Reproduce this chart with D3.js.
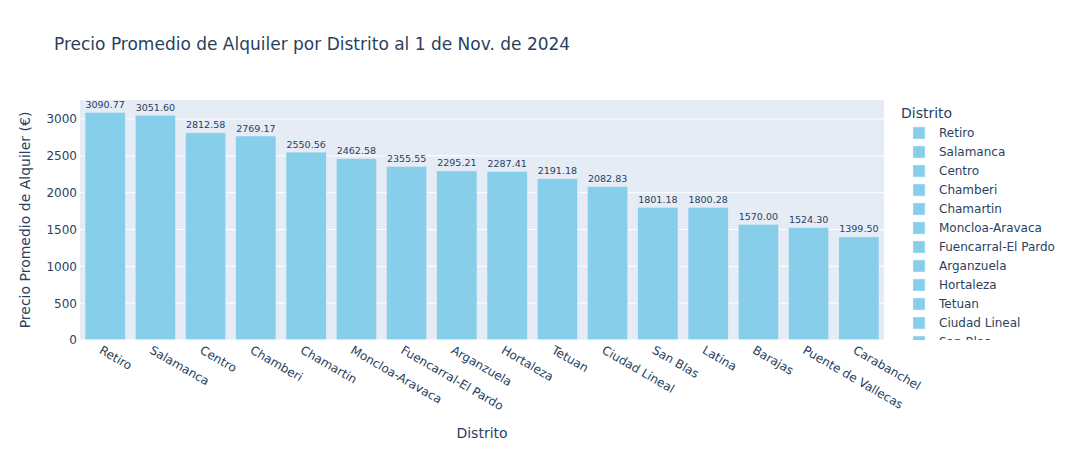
<!DOCTYPE html>
<html>
<head>
<meta charset="utf-8">
<script src="https://cdn.jsdelivr.net/npm/d3@7"></script>
<style>
  html, body { margin: 0; padding: 0; background: #fff; }
  svg text { font-family: "DejaVu Sans", Verdana, sans-serif; fill: #2a3f5f; }
</style>
</head>
<body>
<svg id="chart" width="1074" height="450"></svg>
<script>
const titleText = "Precio Promedio de Alquiler por Distrito al 1 de Nov. de 2024";
const xTitle = "Distrito";
const yTitle = "Precio Promedio de Alquiler (€)";
const legendTitle = "Distrito";
const districts = ["Retiro", "Salamanca", "Centro", "Chamberi", "Chamartin", "Moncloa-Aravaca",
  "Fuencarral-El Pardo", "Arganzuela", "Hortaleza", "Tetuan", "Ciudad Lineal", "San Blas",
  "Latina", "Barajas", "Puente de Vallecas", "Carabanchel"];
const prices = [3090.77, 3051.60, 2812.58, 2769.17, 2550.56, 2462.58, 2355.55, 2295.21,
  2287.41, 2191.18, 2082.83, 1801.18, 1800.28, 1570.00, 1524.30, 1399.50];
const yTicks = [0, 500, 1000, 1500, 2000, 2500, 3000];

const svg = d3.select("#chart");
const margin = {left: 80, right: 884, top: 100, bottom: 340};
const barColor = "#87CEEB";
const plotBg = "#E5ECF6";
const textColor = "#2a3f5f";

const x = d3.scaleBand().domain(districts).range([margin.left, margin.right]).paddingInner(0.2).paddingOuter(0.1);
const y = d3.scaleLinear().domain([0, 3258]).range([margin.bottom, margin.top]);

// plot background
svg.append("rect").attr("x", margin.left).attr("y", margin.top)
  .attr("width", margin.right - margin.left).attr("height", margin.bottom - margin.top)
  .attr("fill", plotBg);

// gridlines
svg.append("g").selectAll("line").data(yTicks.filter(d => d > 0)).join("line")
  .attr("x1", margin.left).attr("x2", margin.right)
  .attr("y1", d => y(d)).attr("y2", d => y(d))
  .attr("stroke", "#fff").attr("stroke-width", 1);

// y axis labels
const yAxis = d3.axisLeft(y).tickValues(yTicks).tickSize(0).tickPadding(3).tickFormat(d3.format("d"));
const yg = svg.append("g").attr("transform", `translate(${margin.left},0)`).call(yAxis);
yg.select(".domain").remove();
yg.selectAll("text").attr("font-size", 12).attr("font-family", "DejaVu Sans").style("fill", textColor);

// bars
svg.append("g").selectAll("rect").data(districts).join("rect")
  .attr("x", d => x(d)).attr("width", x.bandwidth())
  .attr("y", (d, i) => y(prices[i])).attr("height", (d, i) => y(0) - y(prices[i]))
  .attr("fill", barColor).attr("stroke", plotBg).attr("stroke-width", 0.5);

// value labels
svg.append("g").selectAll("text").data(districts).join("text")
  .attr("x", d => x(d) + x.bandwidth() / 2)
  .attr("y", (d, i) => y(prices[i]) - 4.5)
  .attr("text-anchor", "middle").attr("font-size", 9.55)
  .text((d, i) => prices[i].toFixed(2));

// zero line
svg.append("line").attr("x1", margin.left).attr("x2", margin.right)
  .attr("y1", y(0)).attr("y2", y(0)).attr("stroke", "#fff").attr("stroke-width", 1);

// x axis labels
const xAxis = d3.axisBottom(x).tickSize(0).tickPadding(0);
const xg = svg.append("g").attr("transform", `translate(0,${margin.bottom})`).call(xAxis);
xg.select(".domain").remove();
xg.selectAll("text")
  .attr("font-size", 12).attr("font-family", "DejaVu Sans").style("fill", textColor)
  .attr("text-anchor", "start").attr("dy", null).attr("y", null)
  .attr("transform", "translate(-6.7,12.6) rotate(30)");

// axis titles
svg.append("text").attr("x", (margin.left + margin.right) / 2).attr("y", 438)
  .attr("text-anchor", "middle").attr("font-size", 14).text(xTitle);
svg.append("text").attr("transform", `translate(30,${(margin.top + margin.bottom) / 2}) rotate(-90)`)
  .attr("text-anchor", "middle").attr("font-size", 14).text(yTitle);

// title
svg.append("text").attr("x", 54).attr("y", 50).attr("font-size", 17).text(titleText);

// legend
svg.append("defs").append("clipPath").attr("id", "legclip")
  .append("rect").attr("x", 890).attr("y", 100).attr("width", 184).attr("height", 240);
const leg = svg.append("g").attr("clip-path", "url(#legclip)");
leg.append("text").attr("x", 901).attr("y", 118).attr("font-size", 14).text(legendTitle);
const items = leg.selectAll("g.item").data(districts).join("g").attr("class", "item")
  .attr("transform", (d, i) => `translate(0,${133 + i * 19})`);
items.append("rect").attr("x", 913).attr("y", -6).attr("width", 12).attr("height", 12)
  .attr("fill", barColor).attr("stroke", plotBg).attr("stroke-width", 0.5);
items.append("text").attr("x", 939).attr("y", 4.3).attr("font-size", 12).text(d => d);
</script>
</body>
</html>
